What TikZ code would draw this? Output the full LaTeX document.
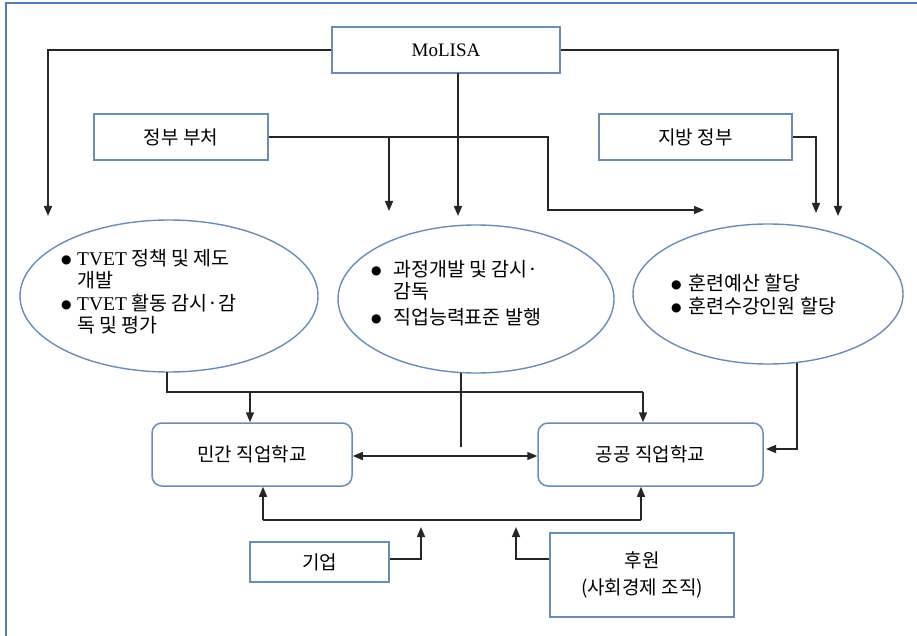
\documentclass[tikz,border=0pt]{standalone}
\usepackage{fontspec}
\setmainfont{Liberation Serif}
\newfontfamily\kr{Noto Sans CJK KR}
\newfontfamily\dv{DejaVu Sans}
\usetikzlibrary{arrows.meta,shapes.geometric}
\definecolor{frameblue}{HTML}{4F7DB5}
\definecolor{boxblue}{HTML}{6A8DB5}
\newcommand{\bul}[1]{\makebox[#1][l]{\raisebox{2pt}{\dv\fontsize{12}{12}\selectfont ●}}}
\begin{document}
\begin{tikzpicture}[x=1pt,y=-1pt,
  arr/.style={-{Triangle[length=10pt,width=8pt]}, line width=1.5pt, draw=black!85},
  darr/.style={{Triangle[length=10pt,width=8pt]}-{Triangle[length=10pt,width=8pt]}, line width=1.5pt, draw=black!85},
  ln/.style={line width=1.5pt, draw=black!85},
  sqbox/.style={draw=boxblue, line width=1.5pt, inner sep=0pt, font=\kr\fontsize{19}{22}\selectfont},
  rbox/.style={draw=boxblue, line width=1.5pt, rounded corners=10pt, inner sep=0pt, font=\kr\fontsize{19}{22}\selectfont},
  ell/.style={draw=boxblue, line width=1.4pt, ellipse, inner sep=0pt},
  etext/.style={anchor=north west, align=left, inner sep=0pt, font=\kr\fontsize{19.5}{22.5}\selectfont}
]
\useasboundingbox (0,0) rectangle (917,636);
% frame
\draw[frameblue, line width=2pt] (6,636) -- (6,3) -- (917,3);

% boxes
\node[sqbox, minimum width=228pt, minimum height=46pt, font=\fontsize{19}{22}\selectfont] (m) at (446,50) {MoLISA};
\node[sqbox, minimum width=174pt, minimum height=46pt] (gov) at (181,137) {정부 부처};
\node[sqbox, minimum width=193pt, minimum height=46pt] (loc) at (695.5,137) {지방 정부};
\node[rbox, minimum width=200pt, minimum height=63pt] (priv) at (252,454.5) {민간 직업학교};
\node[rbox, minimum width=225pt, minimum height=63pt] (pub) at (650.5,454.5) {공공 직업학교};
\node[sqbox, minimum width=139pt, minimum height=40pt] (corp) at (319.5,562) {기업};
\node[sqbox, minimum width=184pt, minimum height=84pt, align=center, font=\kr\fontsize{19}{27}\selectfont] (sup) at (642,575) {후원\\(사회경제 조직)};

% ellipses
\node[ell, minimum width=298pt, minimum height=152pt] (e1) at (169,296) {};
\node[ell, minimum width=276pt, minimum height=148pt] (e2) at (476,299) {};
\node[ell, minimum width=270pt, minimum height=140pt] (e3) at (768,294) {};

\node[etext] (t1) at (61,249) {\bul{16pt}{\rmfamily TVET} 정책 및 제도\\\hspace*{16pt}개발\\\bul{16pt}{\rmfamily TVET} 활동 감시·감\\\hspace*{16pt}독 및 평가};
\node[etext] (t2) at (371,260) {\bul{22pt}과정개발 및 감시·\\\hspace*{22pt}감독\\[3pt]\bul{22pt}직업능력표준 발행};
\node[etext] (t3) at (671,274) {\bul{17pt}훈련예산 할당\\\bul{17pt}훈련수강인원 할당};

% coordinates
\coordinate (mL) at (48,216);
\coordinate (mR) at (838,216);
\coordinate (mB0) at (458,73);
\coordinate (mB) at (458,216);
\coordinate (gA) at (389,137);
\coordinate (gB) at (389,211);
\coordinate (gC) at (548,137);
\coordinate (gD) at (548,210);
\coordinate (gE) at (704,210);
\coordinate (lA) at (816,213);
\coordinate (e1b) at (167,372);
\coordinate (j1) at (167,392);
\coordinate (j2) at (250,392);
\coordinate (j3) at (643,392);
\coordinate (e2b) at (461,373);
\coordinate (e2e) at (461,447);
\coordinate (e3b) at (797,363);
\coordinate (e3c) at (797,449);
\coordinate (pubR) at (766,449);
\coordinate (b1) at (263,520);
\coordinate (b2) at (641,520);
\coordinate (c1) at (421,527);
\coordinate (s1) at (516,527);

% top connectors
\draw[arr] (m.west) -| (mL);
\draw[arr] (m.east) -| (mR);
\draw[arr] (mB0) -- (mB);
\draw[arr] (gov.east) -- (gC) -- (gD) -- (gE);
\draw[arr] (gA) -- (gB);
\draw[arr] (loc.east) -| (lA);

% middle connectors
\draw[ln] (e1b) -- (j1) -- (j3);
\draw[arr] (j2) -- (j2 |- priv.north);
\draw[arr] (j3) -- (j3 |- pub.north);
\draw[ln] (e2b) -- (e2e);
\draw[arr] (e3b) -- (e3c) -- (pubR);
\draw[darr] (priv.east |- 0,456) -- (pub.west |- 0,456);

% bottom connectors
\draw[arr] (b1) -- (b1 |- priv.south);
\draw[arr] (b2) -- (b2 |- pub.south);
\draw[ln] (b1) -- (b2);
\draw[arr] (corp.east |- 0,559) -| (c1);
\draw[arr] (sup.west |- 0,559) -| (s1);
\end{tikzpicture}
\end{document}
